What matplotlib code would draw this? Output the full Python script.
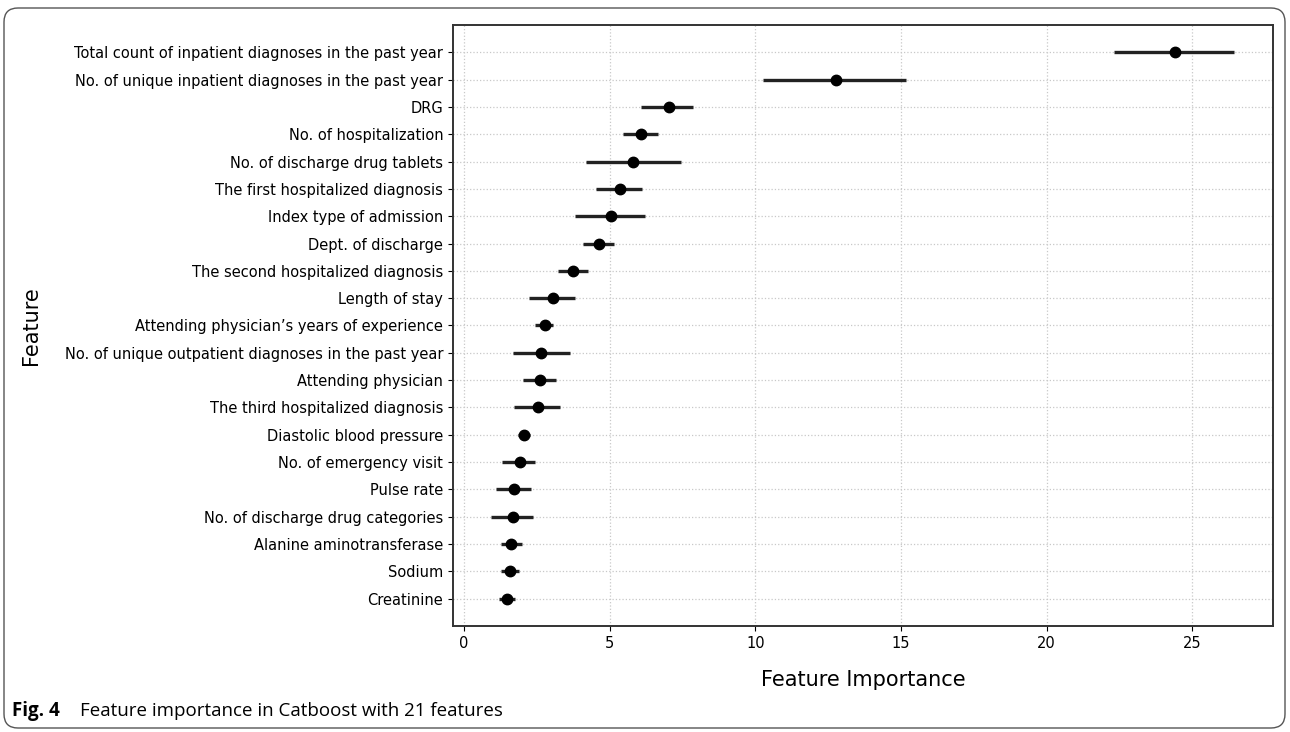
"""Catboost feature importance (21 features) — error-bar chart."""
import numpy as np
import matplotlib; matplotlib.use("Agg")
import matplotlib.pyplot as plt
from matplotlib.patches import FancyBboxPatch

features = [
    "Total count of inpatient diagnoses in the past year",
    "No. of unique inpatient diagnoses in the past year",
    "DRG",
    "No. of hospitalization",
    "No. of discharge drug tablets",
    "The first hospitalized diagnosis",
    "Index type of admission",
    "Dept. of discharge",
    "The second hospitalized diagnosis",
    "Length of stay",
    "Attending physician\u2019s years of experience",
    "No. of unique outpatient diagnoses in the past year",
    "Attending physician",
    "The third hospitalized diagnosis",
    "Diastolic blood pressure",
    "No. of emergency visit",
    "Pulse rate",
    "No. of discharge drug categories",
    "Alanine aminotransferase",
    "Sodium",
    "Creatinine",
]
importance = [24.39, 12.76, 7.03, 6.09, 5.79, 5.35, 5.04, 4.64, 3.75, 3.04, 2.77,
              2.63, 2.59, 2.53, 2.07, 1.92, 1.72, 1.67, 1.61, 1.57, 1.46]
err_low = [22.31, 10.26, 6.07, 5.45, 4.19, 4.54, 3.82, 4.08, 3.24, 2.22, 2.43,
           1.67, 2.02, 1.71, 1.84, 1.31, 1.11, 0.91, 1.26, 1.26, 1.19]
err_high = [26.42, 15.17, 7.85, 6.67, 7.43, 6.11, 6.21, 5.16, 4.25, 3.81, 3.06,
            3.62, 3.15, 3.30, 2.28, 2.43, 2.29, 2.36, 2.00, 1.90, 1.75]

imp = np.array(importance)
xerr = np.vstack([imp - np.array(err_low), np.array(err_high) - imp])
ypos = np.arange(len(features))

plt.rcParams["font.family"] = ["DejaVu Sans"]
fig = plt.figure(figsize=(12.9, 7.32), dpi=100)
ax = fig.add_axes([453/1290, 1 - 626/732, (1273 - 453)/1290, (626 - 25)/732])

ax.errorbar(imp, ypos, xerr=xerr, fmt="o", color="k", ms=7.5,
            ecolor="#222222", elinewidth=2.4, capsize=0, zorder=3)

ax.set_yticks(ypos)
ax.set_yticklabels(features, fontsize=10.5)
ax.set_ylim(len(features), -1)
ax.set_xlim(-0.38, 27.77)
ax.set_xticks([0, 5, 10, 15, 20, 25])
ax.tick_params(axis="x", labelsize=10.5)
ax.grid(True, linestyle=":", color="#c8c8c8", lw=0.9)
ax.set_axisbelow(True)
for s in ax.spines.values():
    s.set_color("#333333"); s.set_linewidth(1.4)
ax.set_xlabel("Feature Importance", fontsize=15, labelpad=14)
ax.set_ylabel("Feature", fontsize=15)
ax.yaxis.set_label_coords(-0.503, 0.5)

# figure frame + caption
frame = FancyBboxPatch((4, 4), 1281, 720, boxstyle="round,pad=0,rounding_size=14",
                       transform=None, fill=False, ec="#555555", lw=1.0)
fig.patches.append(frame)
fig.text(12/1290, 1 - 711/732, "Fig. 4", fontsize=13.5, fontweight="bold",
         family=["Open Sans", "DejaVu Sans"], va="center", ha="left")
fig.text(80/1290, 1 - 711/732, "Feature importance in Catboost with 21 features",
         fontsize=13.5, family=["Open Sans", "DejaVu Sans"], va="center", ha="left")

fig.savefig("out.png", dpi=100)
